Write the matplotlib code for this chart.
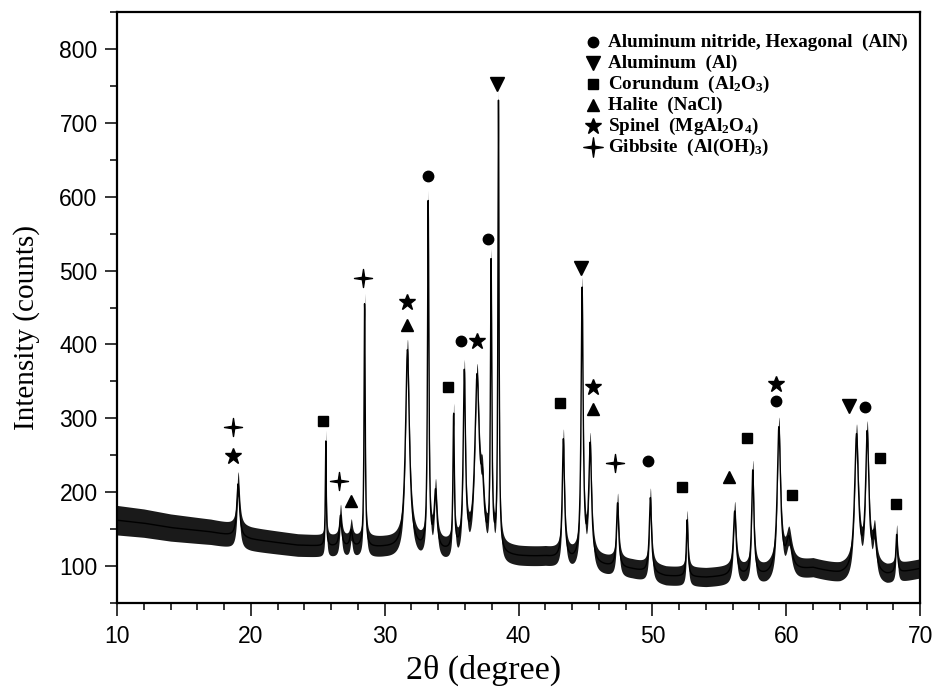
import numpy as np
import matplotlib
matplotlib.use("Agg")
import matplotlib.pyplot as plt
from matplotlib.path import Path

plt.rcParams['mathtext.default'] = 'regular'

# background level of the scan
bg_x = [10, 12, 14, 17, 20, 23.5, 26, 30, 34, 40, 42, 46, 48.5, 51, 54, 56, 58.5, 62, 64, 67.5, 70]
bg_y = [162, 158, 152, 146, 136, 128, 126, 124, 118, 112, 112, 100, 95, 86, 84, 86, 86, 96, 88, 86, 96]

# half width of the noise band
noise_x = [10, 20, 30, 50, 70]
noise_hw = [20, 16, 14, 13, 13]

# reflections: position (2theta), height above background, FWHM
peak_pos = [19.05, 25.6, 26.7, 27.5, 28.5, 31.7, 33.25, 33.8, 35.15, 35.95, 36.9, 37.3,
            37.95, 38.5, 43.35, 44.75, 45.35, 47.4, 49.85, 52.6, 56.15, 57.5, 59.45,
            60.2, 65.25, 66.05, 66.6, 68.25]
peak_h = [72, 142, 42, 22, 332, 270, 467, 77, 182, 237, 232, 67,
          387, 607, 162, 367, 157, 87, 102, 77, 87, 142, 195,
          42, 185, 185, 47, 52]
peak_w = [0.25, 0.08, 0.2, 0.2, 0.1, 0.35, 0.12, 0.25, 0.12, 0.2, 0.4, 0.3,
          0.12, 0.1, 0.2, 0.18, 0.25, 0.2, 0.2, 0.15, 0.25, 0.2, 0.3,
          0.5, 0.35, 0.3, 0.3, 0.15]

# phase markers (x, y)
aln_x = [33.2, 37.7, 35.7, 49.7, 59.25, 65.9]
aln_y = [628, 543, 405, 242, 323, 315]
al_x = [38.4, 44.7, 64.7]
al_y = [753, 504, 316]
cor_x = [25.4, 34.7, 43.1, 52.2, 57.1, 60.4, 67.0, 68.2]
cor_y = [297, 342, 321, 207, 274, 196, 246, 184]
hal_x = [27.5, 31.7, 45.6, 55.7]
hal_y = [188, 426, 312, 220]
spi_x = [18.7, 31.7, 36.9, 45.6, 59.25]
spi_y = [249, 457, 404, 343, 347]
gib_x = [18.7, 26.6, 28.4, 47.2]
gib_y = [288, 215, 490, 240]

labels = ['Aluminum nitride, Hexagonal  (AlN)',
          'Aluminum  (Al)',
          'Corundum  (Al$_2$O$_3$)',
          'Halite  (NaCl)',
          'Spinel  (MgAl$_2$O$_4$)',
          'Gibbsite  (Al(OH)$_3$)']

# four pointed star for gibbsite
gib_marker = Path([(0, 1), (0.13, 0.13), (1, 0), (0.13, -0.13), (0, -1),
                   (-0.13, -0.13), (-1, 0), (-0.13, 0.13), (0, 1)],
                  [Path.MOVETO] + [Path.LINETO] * 7 + [Path.CLOSEPOLY])

tt = np.linspace(10, 70, 4001)
counts = np.interp(tt, bg_x, bg_y)
for p, h, w in zip(peak_pos, peak_h, peak_w):
    counts = counts + h / (1 + ((tt - p) / (w / 2)) ** 2)
hw = np.interp(tt, noise_x, noise_hw)

fig = plt.figure(figsize=(9.36, 6.95), dpi=100)
ax = fig.add_axes([0.125, 0.1324, 0.858, 0.8503])

ax.fill_between(tt, counts - hw, counts + hw, color='#1a1a1a', lw=0)
ax.plot(tt, counts, color='black', lw=1.0)

ms = dict(color='black', ls='none')
ax.plot(aln_x, aln_y, marker='o', ms=7.5, **ms)
ax.plot(al_x, al_y, marker='v', ms=10, **ms)
ax.plot(cor_x, cor_y, marker='s', ms=7, **ms)
ax.plot(hal_x, hal_y, marker='^', ms=8, **ms)
ax.plot(spi_x, spi_y, marker='*', ms=12, **ms)
ax.plot(gib_x, gib_y, marker=gib_marker, ms=13, **ms)

# legend drawn by hand, rows are tight
leg_markers = [('o', 7.5), ('v', 10), ('s', 7), ('^', 8), ('*', 12), (gib_marker, 14)]
for i, ((mk, sz), lab) in enumerate(zip(leg_markers, labels)):
    yy = 0.949 - i * 0.0355
    ax.plot([0.593], [yy], transform=ax.transAxes, marker=mk, ms=sz, color='black', ls='none')
    ax.text(0.611, yy, lab, transform=ax.transAxes, va='center', ha='left',
            family='Liberation Serif', fontweight='bold', fontsize=13.8)

ax.set_xlim(10, 70)
ax.set_ylim(50, 850)
ax.set_xticks(np.arange(10, 71, 10))
ax.set_xticks(np.arange(10, 71, 2), minor=True)
ax.set_yticks(np.arange(100, 801, 100))
ax.set_yticks(np.arange(50, 851, 50), minor=True)
ax.tick_params(which='major', direction='out', length=9, width=1.1, labelsize=16.5, pad=5)
ax.tick_params(axis='x', which='major', pad=7)
ax.tick_params(which='minor', direction='out', length=5, width=1.1)
ax.tick_params(top=False, right=False)
for lab in ax.get_xticklabels() + ax.get_yticklabels():
    lab.set_family('Liberation Sans')
for s in ax.spines.values():
    s.set_linewidth(1.6)

ax.set_xlabel('2θ (degree)', family='Liberation Serif', fontsize=24.5)
ax.set_ylabel('Intensity (counts)', family='Liberation Serif', fontsize=21)
ax.xaxis.set_label_coords(0.456, -0.088)
ax.yaxis.set_label_coords(-0.0959, 0.467)

fig.savefig('out.png', dpi=100)
